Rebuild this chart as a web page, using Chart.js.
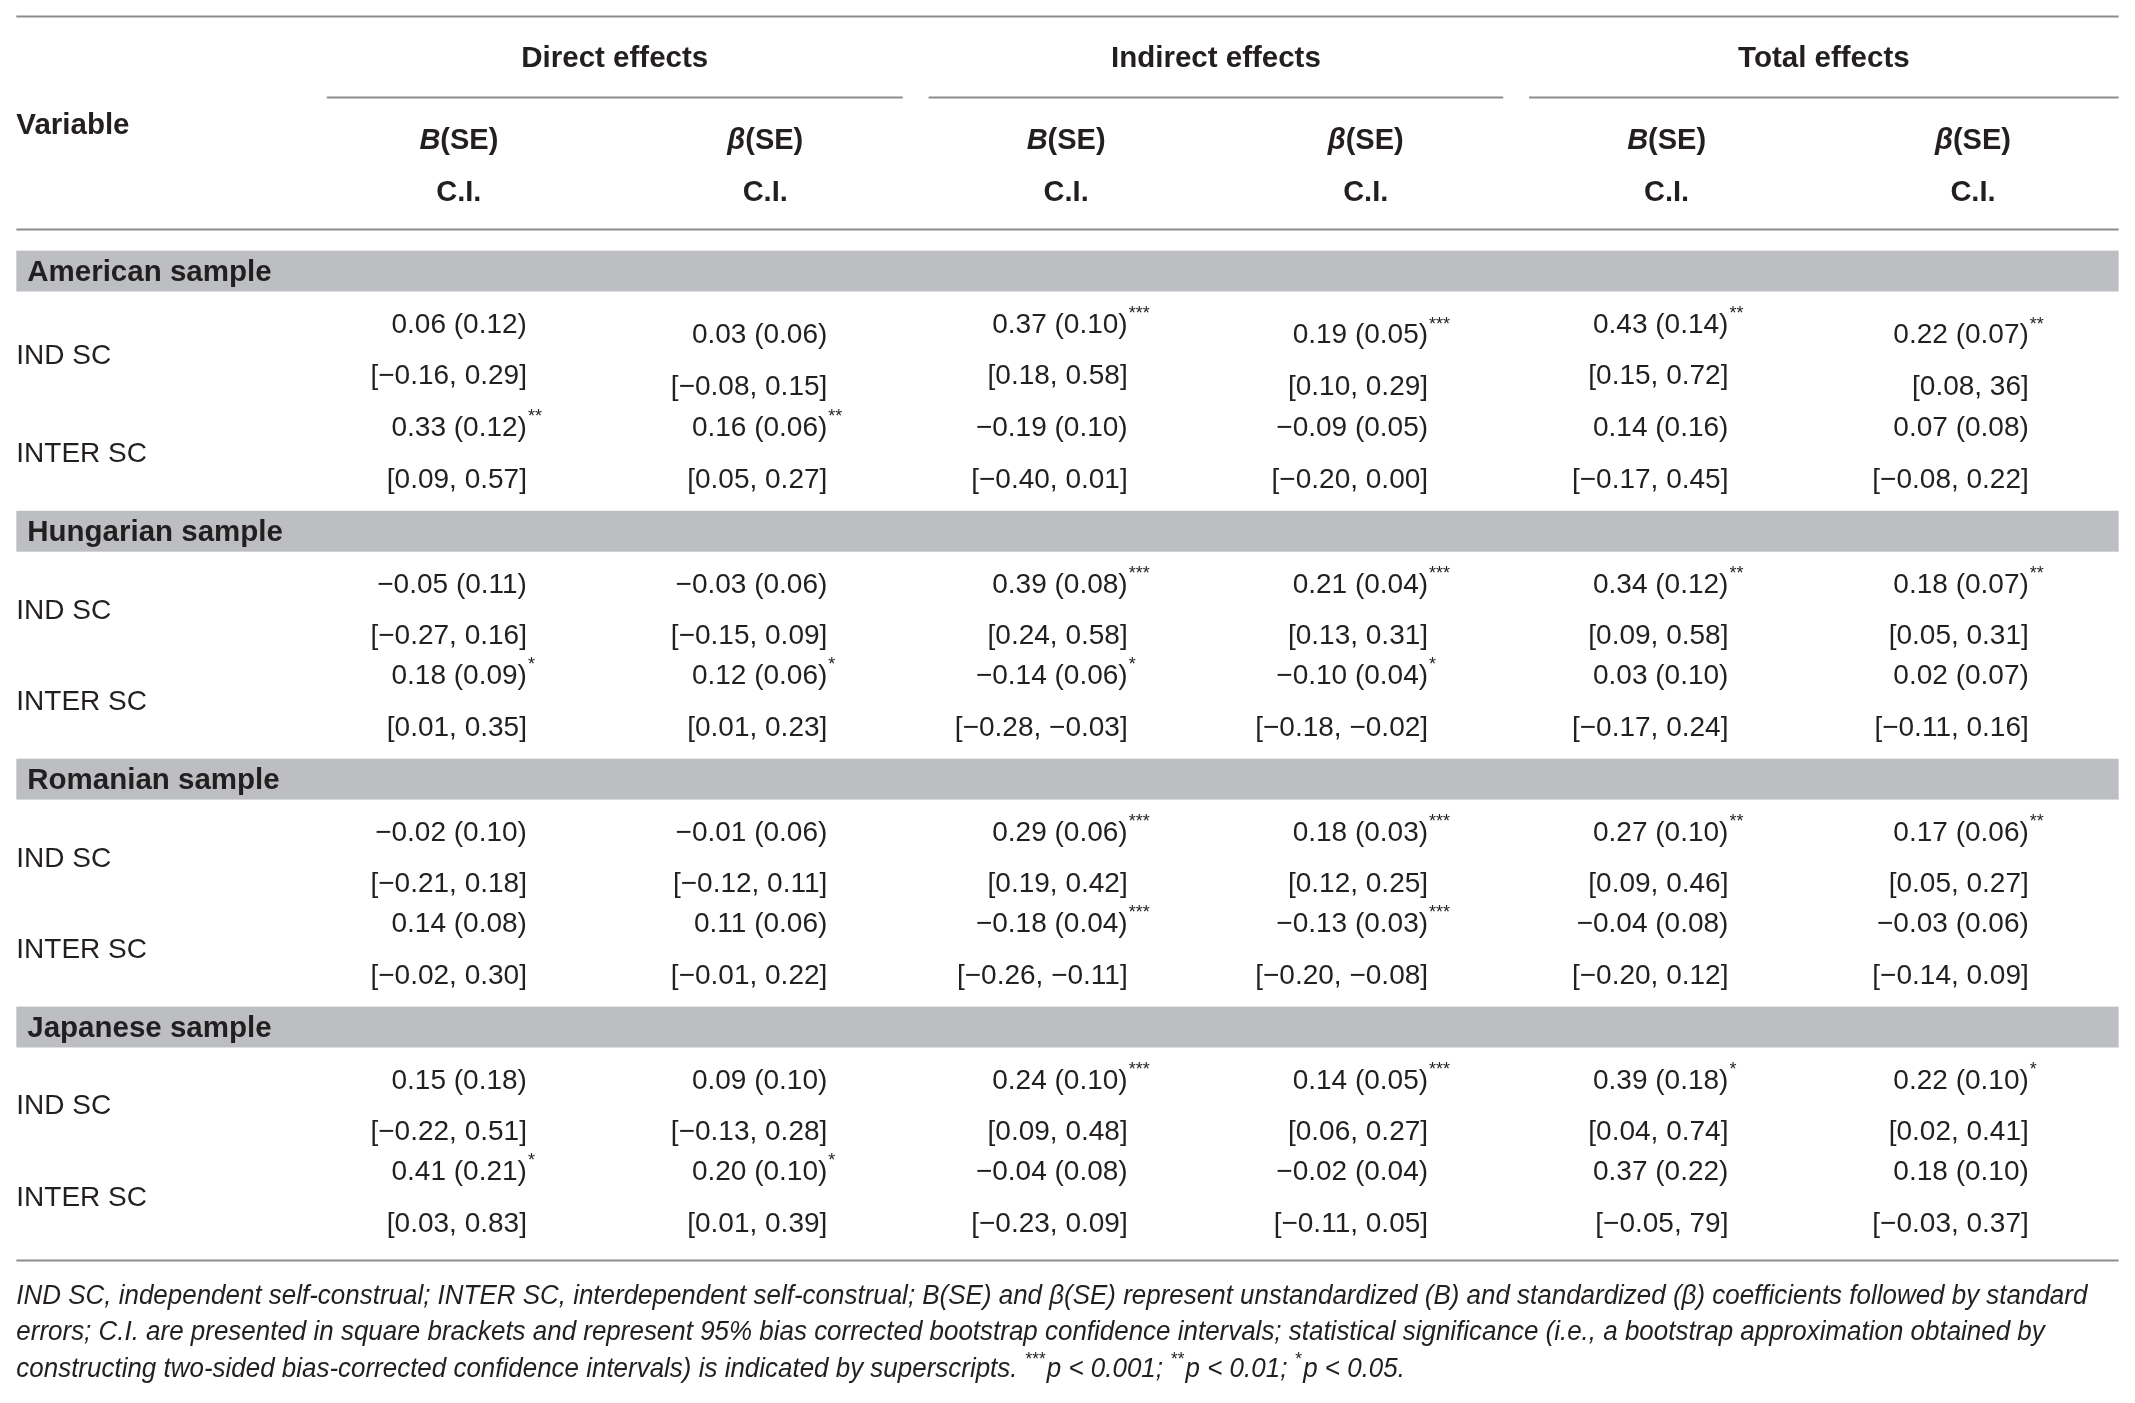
<!DOCTYPE html>
<html>
<head>
<meta charset="utf-8">
<script src="https://cdn.jsdelivr.net/npm/chart.js@4.4.1/dist/chart.umd.min.js"></script>
<style>
  html, body { margin: 0; padding: 0; background: #fff; overflow: hidden; }
  #wrap { width: 2135px; height: 1403px; }
</style>
</head>
<body>
<div id="wrap"><canvas id="effects-table" width="2135" height="1403"></canvas></div>
<script>
// ---- table content ----
const groups = ["Direct effects", "Indirect effects", "Total effects"];
const coefSymbols = ["B", "β", "B", "β", "B", "β"];
const sections = ["American sample", "Hungarian sample", "Romanian sample", "Japanese sample"];
const variables = ["IND SC", "INTER SC"];

// estimate (SE) with significance stars, one row per variable
const americanEstimates = [
  ["0.06 (0.12)", "0.03 (0.06)", "0.37 (0.10)***", "0.19 (0.05)***", "0.43 (0.14)**", "0.22 (0.07)**"],
  ["0.33 (0.12)**", "0.16 (0.06)**", "−0.19 (0.10)", "−0.09 (0.05)", "0.14 (0.16)", "0.07 (0.08)"],
];
const americanIntervals = [
  ["[−0.16, 0.29]", "[−0.08, 0.15]", "[0.18, 0.58]", "[0.10, 0.29]", "[0.15, 0.72]", "[0.08, 36]"],
  ["[0.09, 0.57]", "[0.05, 0.27]", "[−0.40, 0.01]", "[−0.20, 0.00]", "[−0.17, 0.45]", "[−0.08, 0.22]"],
];
const hungarianEstimates = [
  ["−0.05 (0.11)", "−0.03 (0.06)", "0.39 (0.08)***", "0.21 (0.04)***", "0.34 (0.12)**", "0.18 (0.07)**"],
  ["0.18 (0.09)*", "0.12 (0.06)*", "−0.14 (0.06)*", "−0.10 (0.04)*", "0.03 (0.10)", "0.02 (0.07)"],
];
const hungarianIntervals = [
  ["[−0.27, 0.16]", "[−0.15, 0.09]", "[0.24, 0.58]", "[0.13, 0.31]", "[0.09, 0.58]", "[0.05, 0.31]"],
  ["[0.01, 0.35]", "[0.01, 0.23]", "[−0.28, −0.03]", "[−0.18, −0.02]", "[−0.17, 0.24]", "[−0.11, 0.16]"],
];
const romanianEstimates = [
  ["−0.02 (0.10)", "−0.01 (0.06)", "0.29 (0.06)***", "0.18 (0.03)***", "0.27 (0.10)**", "0.17 (0.06)**"],
  ["0.14 (0.08)", "0.11 (0.06)", "−0.18 (0.04)***", "−0.13 (0.03)***", "−0.04 (0.08)", "−0.03 (0.06)"],
];
const romanianIntervals = [
  ["[−0.21, 0.18]", "[−0.12, 0.11]", "[0.19, 0.42]", "[0.12, 0.25]", "[0.09, 0.46]", "[0.05, 0.27]"],
  ["[−0.02, 0.30]", "[−0.01, 0.22]", "[−0.26, −0.11]", "[−0.20, −0.08]", "[−0.20, 0.12]", "[−0.14, 0.09]"],
];
const japaneseEstimates = [
  ["0.15 (0.18)", "0.09 (0.10)", "0.24 (0.10)***", "0.14 (0.05)***", "0.39 (0.18)*", "0.22 (0.10)*"],
  ["0.41 (0.21)*", "0.20 (0.10)*", "−0.04 (0.08)", "−0.02 (0.04)", "0.37 (0.22)", "0.18 (0.10)"],
];
const japaneseIntervals = [
  ["[−0.22, 0.51]", "[−0.13, 0.28]", "[0.09, 0.48]", "[0.06, 0.27]", "[0.04, 0.74]", "[0.02, 0.41]"],
  ["[0.03, 0.83]", "[0.01, 0.39]", "[−0.23, 0.09]", "[−0.11, 0.05]", "[−0.05, 79]", "[−0.03, 0.37]"],
];

const footnoteLines = [
  "IND SC, independent self-construal; INTER SC, interdependent self-construal; B(SE) and β(SE) represent unstandardized (B) and standardized (β) coefficients followed by standard",
  "errors; C.I. are presented in square brackets and represent 95% bias corrected bootstrap confidence intervals; statistical significance (i.e., a bootstrap approximation obtained by",
  "constructing two-sided bias-corrected confidence intervals) is indicated by superscripts. ***p < 0.001; **p < 0.01; *p < 0.05.",
];

// ---- layout (grid units, 1568 x 1030) ----
const GRID_W = 1568;
const GRID_H = 1030;
const LEFT = 12;
const RIGHT = 1556;
const COL_RIGHT0 = 387;
const COL_PITCH = 220.6;
const HEAD_CENTERS = [337, 562, 783, 1003, 1224, 1449];
const GROUP_SPANS = [[240, 663], [682, 1104], [1123, 1556]];
const LINE = 38;
const PAIR_GAPS = [38, 29, 29, 29];
const BAND_HALF = 15;
const FIRST_BAND = 199;
const NOTE_RIGHT = 1533;
const TEXT_NUDGE = 2; // canvas px, centres glyphs on their line

const TEXT = "#231f20";
const RULE = "#8c8c8c";
const BAND = "#bdbec1";
const FONT = "'Liberation Sans', Arial, sans-serif";

const sectionRows = [
  [americanEstimates, americanIntervals],
  [hungarianEstimates, hungarianIntervals],
  [romanianEstimates, romanianIntervals],
  [japaneseEstimates, japaneseIntervals],
];

// build anchor points
const anchors = [];
const bands = [];
let bandY = FIRST_BAND;
let lastLine = 0;
sections.forEach((name, s) => {
  bands.push(bandY);
  anchors.push({ x: LEFT + 8, y: bandY, kind: "section", text: name });
  const l1 = bandY + LINE;
  const lines = [[l1, l1 + LINE], [l1 + LINE + PAIR_GAPS[s], l1 + 2 * LINE + PAIR_GAPS[s]]];
  const [est, ci] = sectionRows[s];
  variables.forEach((v, r) => {
    // first block of the first section has the beta columns set a little lower
    const stagger = s === 0 && r === 0 ? 8 : 0;
    let bottom = lines[r][1];
    for (let c = 0; c < 6; c++) {
      const dy = c % 2 === 1 ? stagger : 0;
      const x = COL_RIGHT0 + c * COL_PITCH;
      anchors.push({ x, y: lines[r][0] + dy, kind: "cell", text: est[r][c] });
      anchors.push({ x, y: lines[r][1] + dy, kind: "cell", text: ci[r][c] });
      bottom = Math.max(bottom, lines[r][1] + dy);
    }
    anchors.push({ x: LEFT, y: (lines[r][0] + bottom) / 2, kind: "label", text: v });
  });
  lastLine = lines[1][1];
  bandY = lastLine + LINE + 1;
});
const BOTTOM_RULE = lastLine + 28;

groups.forEach((g, i) => {
  anchors.push({ x: (GROUP_SPANS[i][0] + GROUP_SPANS[i][1]) / 2, y: 42, kind: "group", text: g });
});
anchors.push({ x: LEFT, y: 91, kind: "variable", text: "Variable" });
coefSymbols.forEach((sym, c) => {
  anchors.push({ x: HEAD_CENTERS[c], y: 102, kind: "coef", text: sym });
  anchors.push({ x: HEAD_CENTERS[c], y: 140, kind: "ci", text: "C.I." });
});
footnoteLines.forEach((t, i) => {
  anchors.push({ x: LEFT, y: BOTTOM_RULE + 25 + i * 27, kind: "note", text: t, line: i });
});

const tablePlugin = {
  id: "tablePlugin",
  beforeDatasetsDraw(chart) {
    const { ctx, scales } = chart;
    const sx = (v) => scales.x.getPixelForValue(v);
    const sy = (v) => scales.y.getPixelForValue(v);
    ctx.save();
    ctx.fillStyle = BAND;
    bands.forEach((b) => {
      ctx.fillRect(sx(LEFT), sy(b - BAND_HALF), sx(RIGHT) - sx(LEFT), sy(b + BAND_HALF) - sy(b - BAND_HALF));
    });
    ctx.strokeStyle = RULE;
    ctx.lineWidth = 2;
    const hline = (x0, x1, y) => {
      ctx.beginPath();
      ctx.moveTo(sx(x0), Math.round(sy(y)) + 0.5);
      ctx.lineTo(sx(x1), Math.round(sy(y)) + 0.5);
      ctx.stroke();
    };
    hline(LEFT, RIGHT, 12);
    GROUP_SPANS.forEach(([a, b]) => hline(a, b, 71));
    hline(LEFT, RIGHT, 168);
    hline(LEFT, RIGHT, BOTTOM_RULE);
    ctx.restore();
  },
  afterDatasetsDraw(chart) {
    const { ctx } = chart;
    const meta = chart.getDatasetMeta(0);
    ctx.save();
    ctx.fillStyle = TEXT;
    ctx.textBaseline = "middle";
    let noteScale = null;
    meta.data.forEach((pt, i) => {
      const raw = chart.data.datasets[0].data[i];
      const x = pt.x;
      const y = pt.y + TEXT_NUDGE;
      if (raw.kind === "cell") {
        const m = raw.text.match(/^(.*?)(\*+)$/);
        const base = m ? m[1] : raw.text;
        ctx.font = "28px " + FONT;
        ctx.textAlign = "right";
        ctx.fillText(base, x, y);
        if (m) {
          ctx.font = "18px " + FONT;
          ctx.textAlign = "left";
          ctx.fillText(m[2], x + 1, y - 11);
        }
      } else if (raw.kind === "label") {
        ctx.font = "28px " + FONT;
        ctx.textAlign = "left";
        ctx.fillText(raw.text, x, y);
      } else if (raw.kind === "section" || raw.kind === "variable") {
        ctx.font = "bold 29.5px " + FONT;
        ctx.textAlign = "left";
        ctx.fillText(raw.text, x, y);
      } else if (raw.kind === "group") {
        ctx.font = "bold 29.5px " + FONT;
        ctx.textAlign = "center";
        ctx.fillText(raw.text, x, y);
      } else if (raw.kind === "ci") {
        ctx.font = "bold 29px " + FONT;
        ctx.textAlign = "center";
        ctx.fillText(raw.text, x, y);
      } else if (raw.kind === "coef") {
        ctx.textAlign = "left";
        ctx.font = "italic bold 29px " + FONT;
        const w1 = ctx.measureText(raw.text).width;
        ctx.font = "bold 29px " + FONT;
        const w2 = ctx.measureText("(SE)").width;
        const x0 = x - (w1 + w2) / 2;
        ctx.font = "italic bold 29px " + FONT;
        ctx.fillText(raw.text, x0, y);
        ctx.font = "bold 29px " + FONT;
        ctx.fillText("(SE)", x0 + w1, y);
      } else if (raw.kind === "note") {
        const parts = raw.text.split(/(\*+)/).filter((p) => p.length);
        const big = "italic 27px " + FONT;
        const small = "italic 18px " + FONT;
        if (noteScale === null) {
          ctx.font = big;
          const target = chart.scales.x.getPixelForValue(NOTE_RIGHT) - x;
          noteScale = Math.min(1, target / ctx.measureText(raw.text).width);
        }
        ctx.save();
        ctx.translate(x, y);
        ctx.scale(noteScale, 1);
        ctx.textAlign = "left";
        let cx = 0;
        parts.forEach((p) => {
          const sup = /^\*+$/.test(p);
          ctx.font = sup ? small : big;
          ctx.fillText(p, cx, sup ? -10 : 0);
          cx += ctx.measureText(p).width + (sup ? 2 : 0);
        });
        ctx.restore();
      }
    });
    ctx.restore();
  },
};

new Chart(document.getElementById("effects-table").getContext("2d"), {
  type: "scatter",
  data: {
    datasets: [
      {
        label: "cells",
        data: anchors,
        pointRadius: 0,
        pointHoverRadius: 0,
        showLine: false,
      },
    ],
  },
  options: {
    responsive: false,
    devicePixelRatio: 1,
    animation: false,
    events: [],
    layout: { padding: 0 },
    plugins: {
      legend: { display: false },
      tooltip: { enabled: false },
      title: { display: false },
    },
    scales: {
      x: { type: "linear", min: 0, max: GRID_W, display: false },
      y: { type: "linear", min: 0, max: GRID_H, reverse: true, display: false },
    },
  },
  plugins: [tablePlugin],
});
</script>
</body>
</html>
